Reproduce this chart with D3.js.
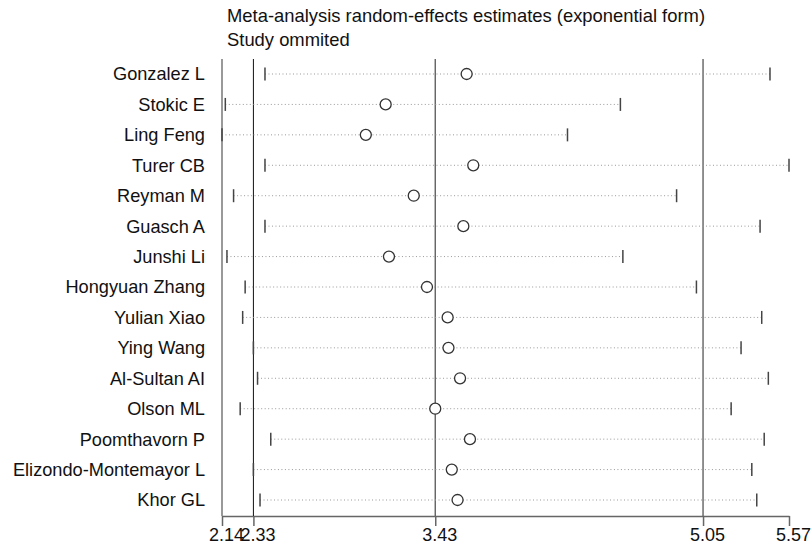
<!DOCTYPE html>
<html>
<head>
<meta charset="utf-8">
<script src="https://cdn.jsdelivr.net/npm/d3@7"></script>
<style>
  body { margin: 0; background: #fff; }
  svg { display: block; font-family: "Liberation Sans", Arial, sans-serif; }
</style>
</head>
<body>
<div id="chart"></div>
<script>
// Studies omitted one at a time
const studies = ["Gonzalez L", "Stokic E", "Ling Feng", "Turer CB", "Reyman M", "Guasch A",
  "Junshi Li", "Hongyuan Zhang", "Yulian Xiao", "Ying Wang", "Al-Sultan AI", "Olson ML",
  "Poomthavorn P", "Elizondo-Montemayor L", "Khor GL"];
const estimates = [3.62, 3.13, 3.01, 3.66, 3.30, 3.60, 3.15, 3.38, 3.505, 3.51, 3.58, 3.43, 3.64, 3.53, 3.565];
const lowerCI = [2.40, 2.16, 2.14, 2.40, 2.21, 2.40, 2.17, 2.28, 2.265, 2.33, 2.355, 2.25, 2.435, 2.33, 2.37];
const upperCI = [5.455, 4.55, 4.23, 5.57, 4.89, 5.395, 4.565, 5.01, 5.405, 5.28, 5.445, 5.22, 5.42, 5.345, 5.375];

// Overall estimate and its CI, and axis ticks
const overall = [2.33, 3.43, 5.05];
const tickValues = [2.14, 2.33, 3.43, 5.05, 5.57];

const rows = studies.map((s, i) => ({ study: s, est: estimates[i], lo: lowerCI[i], hi: upperCI[i] }));

const W = 812, H = 548;
const plotLeft = 222, plotRight = 789, plotTop = 59, plotBottom = 516;

const svg = d3.select("#chart")
  .append("svg")
  .attr("width", W)
  .attr("height", H);

const x = d3.scaleLinear()
  .domain([2.14, 5.57])
  .range([plotLeft, plotRight]);

const y = d3.scalePoint()
  .domain(studies)
  .range([74, 500]);

// Title
svg.append("text")
  .attr("x", 227).attr("y", 22)
  .style("font-size", "18.4px")
  .attr("fill", "#111")
  .text("Meta-analysis random-effects estimates (exponential form)");
svg.append("text")
  .attr("x", 227).attr("y", 46)
  .style("font-size", "18.4px")
  .attr("fill", "#111")
  .text("Study ommited");

// Bottom axis
const xAxis = svg.append("g")
  .attr("transform", `translate(0,${plotBottom})`)
  .call(d3.axisBottom(x)
    .tickValues(tickValues)
    .tickFormat(d3.format(".2f"))
    .tickSize(10)
    .tickSizeOuter(0));
xAxis.select(".domain").attr("stroke", "#666").attr("stroke-width", 1.5);
xAxis.selectAll(".tick line").attr("stroke", "#666").attr("stroke-width", 1.5);
xAxis.selectAll(".tick text")
  .attr("dx", 4)
  .attr("y", 12)
  .style("font-size", "18px")
  .style("font-family", "Liberation Sans, Arial, sans-serif")
  .attr("fill", "#111");

// Left axis line
svg.append("line")
  .attr("x1", x(2.14)).attr("x2", x(2.14))
  .attr("y1", plotTop).attr("y2", plotBottom)
  .attr("stroke", "#777")
  .attr("stroke-width", 1.5);

// Overall estimate lines
svg.selectAll(".overall")
  .data(overall)
  .enter()
  .append("line")
  .attr("class", "overall")
  .attr("x1", d => x(d)).attr("x2", d => x(d))
  .attr("y1", plotTop).attr("y2", plotBottom)
  .attr("stroke", (d, i) => i === 0 ? "#111" : "#555")
  .attr("stroke-width", (d, i) => i === 0 ? 1 : 1.3);

// CI dotted lines
svg.selectAll(".ci")
  .data(rows)
  .enter()
  .append("line")
  .attr("class", "ci")
  .attr("x1", d => x(d.lo)).attr("x2", d => x(d.hi))
  .attr("y1", d => y(d.study)).attr("y2", d => y(d.study))
  .attr("stroke", "#999")
  .attr("stroke-width", 1)
  .attr("stroke-dasharray", "1,2.5");

// End caps
const caps = rows.flatMap(d => [{ study: d.study, v: d.lo }, { study: d.study, v: d.hi }]);
svg.selectAll(".cap")
  .data(caps)
  .enter()
  .append("line")
  .attr("class", "cap")
  .attr("x1", d => x(d.v)).attr("x2", d => x(d.v))
  .attr("y1", d => y(d.study) - 6.5).attr("y2", d => y(d.study) + 6.5)
  .attr("stroke", "#444")
  .attr("stroke-width", 1.5);

// Point estimates
svg.selectAll(".est")
  .data(rows)
  .enter()
  .append("circle")
  .attr("class", "est")
  .attr("cx", d => x(d.est))
  .attr("cy", d => y(d.study))
  .attr("r", 5.5)
  .attr("fill", "#fff")
  .attr("stroke", "#333")
  .attr("stroke-width", 1.3);

// Study labels
svg.selectAll(".label")
  .data(studies)
  .enter()
  .append("text")
  .attr("class", "label")
  .attr("x", 205)
  .attr("y", d => y(d))
  .attr("dy", "0.35em")
  .attr("text-anchor", "end")
  .style("font-size", "18.2px")
  .attr("fill", "#111")
  .text(d => d);
</script>
</body>
</html>
